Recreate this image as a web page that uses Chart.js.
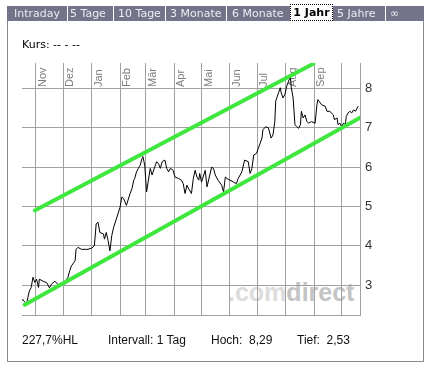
<!DOCTYPE html>
<html><head><meta charset="utf-8">
<script src="https://cdn.jsdelivr.net/npm/chart.js@4/dist/chart.umd.min.js"></script>
<style>
html,body{margin:0;padding:0;background:#fff}
body{width:433px;height:369px;overflow:hidden;position:relative;font-family:"DejaVu Sans",Verdana,sans-serif}
#frame{position:absolute;left:7px;top:21px;width:415px;height:340px;border:1px solid #8a8a8a;border-top:none;z-index:0}
#tabs{position:absolute;left:7px;top:6px;width:417px;height:15px;background:#73738a;z-index:3}
.tab{position:absolute;top:6px;height:15px;line-height:15px;font-size:11px;color:#ececf2;white-space:nowrap;z-index:4}
.sep{position:absolute;top:6px;width:1px;height:15px;background:#fff;z-index:4}
#sel{position:absolute;left:290px;top:4px;width:41px;height:15px;line-height:15px;background:#fff;border:1px dotted #000;font-weight:bold;font-size:11px;color:#000;text-align:center;z-index:5}
#kurs{position:absolute;left:22px;top:37px;font-size:11px;line-height:15px;color:#000;z-index:3}
#wm{position:absolute;left:228px;top:280px;font-family:"Liberation Sans",Arial,sans-serif;font-weight:bold;font-size:25px;line-height:25px;z-index:1;white-space:nowrap}
.ft{position:absolute;top:333px;font-family:"Liberation Sans",Arial,sans-serif;font-size:12px;line-height:15px;color:#111;white-space:pre;z-index:3}
canvas{position:absolute;left:0;top:0;z-index:2}
</style>
</head><body>
<div id="frame"></div>
<div id="tabs"></div>
<div class="tab" style="left:14px">Intraday</div>
<div class="sep" style="left:67px"></div>
<div class="tab" style="left:70px">5 Tage</div>
<div class="sep" style="left:113px"></div>
<div class="tab" style="left:118px">10 Tage</div>
<div class="sep" style="left:165px"></div>
<div class="tab" style="left:170px">3 Monate</div>
<div class="sep" style="left:226px"></div>
<div class="tab" style="left:232px">6 Monate</div>
<div id="sel">1 Jahr</div>
<div class="tab" style="left:337px">5 Jahre</div>
<div class="sep" style="left:385px"></div>
<div class="tab" style="left:390px">∞</div>
<div id="kurs">Kurs: -- - --</div>
<div id="wm"><span style="color:#dcdcdc">.com</span><span style="color:#c4c4c4">direct</span></div>
<div class="ft" style="left:22px">227,7%HL</div>
<div class="ft" style="left:108px">Intervall: 1 Tag</div>
<div class="ft" style="left:211px">Hoch:  8,29</div>
<div class="ft" style="left:297px">Tief:  2,53</div>
<canvas id="c" width="433" height="369"></canvas>
<script>
// Days counted from 1 Nov; prices
const days = [-15,-14,-10,-7,-5,-3,-1,1,3,4,8,12,15,17,21,24,28,32,35,37,39,43,44,46,50,54,57,61,64,66,68,70,74,75,77,79,81,83,85,88,92,94,96,99,103,105,107,108,110,112,114,116,117,119,121,123,125,127,130,132,134,136,138,141,143,145,147,150,152,156,159,161,163,165,167,170,172,174,176,178,179,181,185,187,190,192,194,196,199,203,205,207,209,212,216,219,221,225,228,232,234,236,238,241,243,247,248,251,254,257,259,261,262,265,267,268,270,272,274,276,278,279,281,283,285,287,289,290,292,294,296,298,301,305,307,308,312,316,318,321,325,326,329,330,332,334,336,338,339,341,343,345,347,349,352];
const prices = [2.63,2.62,2.53,2.85,2.94,3.2,3.07,3.15,2.94,3.15,3.1,3.06,2.93,3.02,3.1,3.02,3.02,3.1,3.19,3.36,3.49,3.62,3.91,3.96,3.91,3.91,3.91,3.94,4.0,4.56,4.6,4.34,4.3,4.17,4.34,4.13,3.87,4.26,4.47,4.68,4.98,5.24,5.2,5.03,5.33,5.45,5.67,5.71,5.88,5.97,6.05,6.22,6.27,6.05,5.37,5.67,5.97,5.8,6.01,6.14,6.09,5.97,6.14,6.18,5.97,5.88,5.97,5.92,5.75,5.71,5.67,5.58,5.33,5.54,5.45,5.33,5.71,5.92,5.75,5.67,5.84,5.62,5.92,5.5,5.8,6.0,5.97,5.8,5.67,5.54,5.37,5.75,5.71,5.67,5.62,5.58,5.71,5.88,6.18,6.14,5.84,5.97,6.31,6.35,6.48,6.74,6.95,7.03,7.0,6.74,6.82,7.16,7.68,7.89,8.02,7.89,7.76,7.85,8.06,8.19,8.29,8.02,7.76,7.08,7.03,6.99,7.08,7.42,7.25,7.33,7.16,7.12,7.16,7.12,7.59,7.72,7.59,7.55,7.42,7.42,7.33,7.21,7.25,7.08,7.12,7.03,7.12,7.08,7.29,7.38,7.42,7.38,7.46,7.42,7.55];
const upperDays = [-1, 303];
const upperVals = [4.90, 8.63];
const lowerDays = [-12, 355];
const lowerVals = [2.50, 7.27];
const monthStarts = [0,30,61,92,120,151,181,212,242,273,304,334];
const monthLabels = ['Nov','Dez','Jan','Feb','Mär','Apr','Mai','Jun','Jul','Aug','Sep',''];
const yTicks = [3,4,5,6,7,8];

const pts = (xs, ys) => xs.map((x, i) => ({x: x, y: ys[i]}));

const monthLabelPlugin = {
  id: 'monthLabels',
  beforeDatasetsDraw(chart) {
    const xs = chart.scales.x, ctx = chart.ctx;
    ctx.save();
    ctx.font = '11px "Liberation Sans", Arial, sans-serif';
    ctx.fillStyle = '#7d7d7d';
    ctx.textAlign = 'left';
    ctx.textBaseline = 'alphabetic';
    monthStarts.forEach((d, i) => {
      const lab = monthLabels[i];
      if (!lab) return;
      const px = xs.getPixelForValue(d);
      ctx.save();
      ctx.translate(px + 10, 87);
      ctx.rotate(-Math.PI / 2);
      ctx.fillText(lab, 0, 0);
      ctx.restore();
    });
    ctx.restore();
  }
};

const gridCol = '#a0a0a0';
new Chart(document.getElementById('c'), {
  type: 'line',
  data: {
    datasets: [
      {data: pts(upperDays, upperVals), borderColor: '#3ee63e', borderWidth: 4, pointRadius: 0, tension: 0, borderCapStyle: 'round'},
      {data: pts(lowerDays, lowerVals), borderColor: '#3ee63e', borderWidth: 4, pointRadius: 0, tension: 0, borderCapStyle: 'round'},
      {data: pts(days, prices), borderColor: '#000', borderWidth: 1, pointRadius: 0, tension: 0}
    ]
  },
  options: {
    responsive: false, animation: false, devicePixelRatio: 1,
    layout: {padding: {left: 22, top: 63, right: 0, bottom: 54}},
    plugins: {legend: {display: false}, tooltip: {enabled: false}},
    scales: {
      x: {
        type: 'linear', min: -15, max: 354, position: 'bottom',
        afterBuildTicks: s => { s.ticks = monthStarts.map(v => ({value: v})); },
        ticks: {display: false},
        grid: {color: gridCol, drawTicks: false, lineWidth: 1},
        border: {display: true, color: gridCol},
        afterFit: s => { s.height = 0; }
      },
      y: {
        type: 'linear', position: 'right', min: 2.24, max: 8.65,
        afterBuildTicks: s => { s.ticks = yTicks.map(v => ({value: v})); },
        ticks: {padding: 5, color: '#333', font: {family: '"Liberation Sans", Arial, sans-serif', size: 13}, callback: v => String(v)},
        grid: {color: gridCol, drawTicks: false, lineWidth: 1},
        border: {display: true, color: gridCol},
        afterFit: s => { s.width = 73; }
      }
    }
  },
  plugins: [monthLabelPlugin]
});
</script>
</body></html>
